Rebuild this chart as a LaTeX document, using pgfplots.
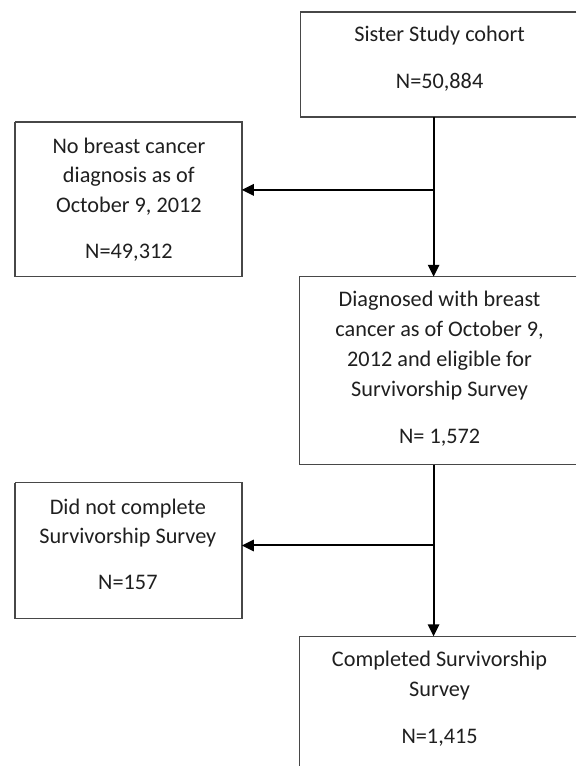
\documentclass[border=0pt]{standalone}
\usepackage{pgfplots}
\pgfplotsset{compat=1.18}
\usepackage{fontspec}
\setmainfont{Carlito}
\usetikzlibrary{arrows.meta}
\tikzset{
  boxline/.style={draw=black!72, line width=1.1pt, line join=miter, mark=none},
  arrowline/.style={draw=black, line width=1.5pt, mark=none, -{Triangle[length=9pt,width=8.5pt]}},
  flowtext/.style={font=\fontsize{16.7}{20}\selectfont, text=black!88, anchor=base, inner sep=0pt},
}
\begin{document}
\begin{tikzpicture}
\begin{axis}[
  scale only axis, width=432.75pt, height=575.25pt,
  xmin=0, xmax=577, ymin=0, ymax=767, y dir=reverse,
  hide axis, clip=false,
]
\addplot[draw=none, mark=none] coordinates {(0,0) (577,767)};
% boxes
\addplot[boxline] coordinates {(577,12) (301,12) (301,117) (577,117)};
\addplot[boxline] coordinates {(15,122) (242,122) (242,277) (15,277) (15,122)};
\addplot[boxline] coordinates {(577,277) (300,277) (300,465) (577,465)};
\addplot[boxline] coordinates {(15,483) (242,483) (242,619) (15,619) (15,483)};
\addplot[boxline] coordinates {(577,637) (300,637) (300,767)};
% connectors
\addplot[arrowline] coordinates {(434,117) (434,277)};
\addplot[arrowline] coordinates {(434,190) (242,190)};
\addplot[arrowline] coordinates {(434,465) (434,637)};
\addplot[arrowline] coordinates {(434,546) (242,546)};
% texts
\node[flowtext] at (440,42) {Sister Study cohort};
\node[flowtext] at (440,89) {N=50,884};
\node[flowtext] at (129,154) {No breast cancer};
\node[flowtext] at (129,183) {diagnosis as of};
\node[flowtext] at (129,213) {October 9, 2012};
\node[flowtext] at (129,259) {N=49,312};
\node[flowtext] at (440,307) {Diagnosed with breast};
\node[flowtext] at (440,337) {cancer as of October 9,};
\node[flowtext] at (440,367) {2012 and eligible for};
\node[flowtext] at (440,397) {Survivorship Survey};
\node[flowtext] at (440,444) {N= 1,572};
\node[flowtext] at (128,515) {Did not complete};
\node[flowtext] at (128,544) {Survivorship Survey};
\node[flowtext] at (128,590) {N=157};
\node[flowtext] at (440,667) {Completed Survivorship};
\node[flowtext] at (440,697) {Survey};
\node[flowtext] at (440,744) {N=1,415};
\end{axis}
\end{tikzpicture}
\end{document}
